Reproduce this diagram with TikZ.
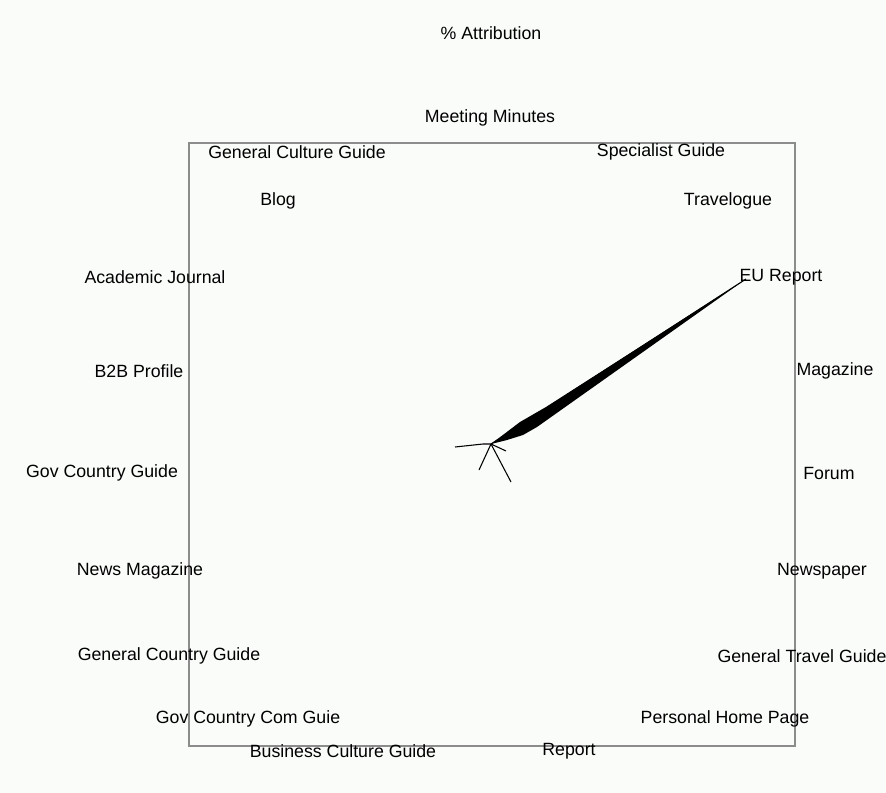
\documentclass[tikz,border=0pt]{standalone}
\usepackage{fontspec}
\setmainfont{Liberation Sans}
\definecolor{bgc}{RGB}{250,252,250}
\begin{document}
\begin{tikzpicture}[x=0.75pt,y=-0.75pt,
  lbl/.style={font=\fontsize{13.3}{15}\selectfont, inner sep=0pt, anchor=center},
  spoke/.style={draw=black, line width=0.8pt},
  frame/.style={draw=black!45, line width=0.8pt}]
\useasboundingbox[fill=bgc] (0,0) rectangle (886,793);
\draw[frame] (189,143) rectangle (795,746);
\node[lbl] (title) at (491,33) {\% Attribution};
\node[lbl] (mm) at (490,118) {Meeting Minutes};
\node[lbl] (gcg) at (297,152) {General Culture Guide};
\node[lbl] (sg) at (661,152) {Specialist Guide};
\node[lbl] (blog) at (278,201) {Blog};
\node[lbl] (trav) at (728,201) {Travelogue};
\node[lbl] (aj) at (155,277) {Academic Journal};
\node[lbl] (eu) at (781,277) {EU Report};
\node[lbl] (b2b) at (139,371) {B2B Profile};
\node[lbl] (mag) at (835,371) {Magazine};
\node[lbl] (gov) at (102,473) {Gov Country Guide};
\node[lbl] (forum) at (829,473) {Forum};
\node[lbl] (news) at (140,571) {News Magazine};
\node[lbl] (np) at (822,571) {Newspaper};
\node[lbl] (gencg) at (169,656) {General Country Guide};
\node[lbl] (gtg) at (802,656) {General Travel Guide};
\node[lbl] (gccg) at (248,719) {Gov Country Com Guie};
\node[lbl] (php) at (725,719) {Personal Home Page};
\node[lbl] (bcg) at (343,751) {Business Culture Guide};
\node[lbl] (rep) at (569,751) {Report};
\coordinate (c) at (491,444);
\coordinate (tip) at (746,279);
\coordinate (sl) at (455,447);
\coordinate (sdl) at (479,470);
\coordinate (sdr) at (511,482);
\coordinate (sr) at (506,451);
\fill[black] (c) -- (520,422) -- (546,407) -- (tip) -- (537,427) -- (523,435) -- (507,440) -- cycle;
\draw[spoke] (c) -- (tip);
\draw[spoke] (c) -- (483,444) -- (sl);
\draw[spoke] (c) -- (sdl);
\draw[spoke] (c) -- (sdr);
\draw[spoke] (c) -- (sr);
\end{tikzpicture}
\end{document}
